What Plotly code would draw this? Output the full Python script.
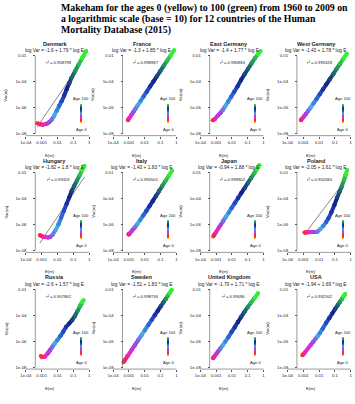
import plotly.graph_objects as go
from plotly.colors import sample_colorscale

W, H = 355, 404

# ---------------- data ----------------
ages = [0, 10, 20, 30, 35, 40, 45, 50, 55, 60, 65, 70, 75, 80, 85, 90, 95, 100]

countries = ["Denmark", "France", "East Germany", "West Germany",
             "Hungary", "Italy", "Japan", "Poland",
             "Russia", "Sweden", "United Kingdom", "USA"]

intercepts = [-1.6, -1.3, -1.4, -1.43, -1.82, -1.43, -0.94, -2.05, -2.6, -1.51, -1.79, -1.94]
slopes = [1.79, 1.85, 1.77, 1.78, 1.8, 1.83, 1.88, 1.61, 1.57, 1.83, 1.71, 1.69]
r_squared = ["0.958798", "0.998987", "0.980884", "0.995328", "0.93324", "0.992601",
             "0.999902", "0.952084", "0.907862", "0.998736", "0.99096", "0.992162"]

# log10 of E(m) and Var(m) for the ages above
log10_E_denmark = [-3.28, -3.12, -2.93, -2.68, -2.52, -2.37, -2.21, -2.05, -1.89, -1.74, -1.58, -1.42, -1.26, -1.11, -0.89, -0.67, -0.45, -0.19]
log10_Var_denmark = [-7.19, -7.27, -7.31, -7.23, -7.12, -6.92, -6.62, -6.23, -5.85, -5.50, -5.08, -4.58, -4.12, -3.69, -3.19, -2.69, -2.19, -1.62]

log10_E_france = [-3.06, -3.04, -2.97, -2.84, -2.73, -2.60, -2.45, -2.26, -2.07, -1.87, -1.66, -1.45, -1.23, -1.01, -0.79, -0.58, -0.36, -0.14]
log10_Var_france = [-6.96, -6.92, -6.79, -6.55, -6.35, -6.11, -5.83, -5.48, -5.13, -4.76, -4.37, -3.98, -3.58, -3.17, -2.76, -2.37, -1.97, -1.56]

log10_E_east_germany = [-3.21, -3.17, -3.09, -2.90, -2.74, -2.58, -2.43, -2.24, -2.05, -1.86, -1.64, -1.42, -1.20, -0.98, -0.76, -0.54, -0.35, -0.19]
log10_Var_east_germany = [-6.97, -6.95, -6.88, -6.62, -6.42, -6.18, -5.90, -5.53, -5.16, -4.78, -4.34, -3.86, -3.42, -3.00, -2.58, -2.17, -1.88, -1.62]

log10_E_west_germany = [-3.15, -3.13, -3.06, -2.93, -2.83, -2.69, -2.54, -2.36, -2.17, -1.96, -1.76, -1.55, -1.33, -1.11, -0.90, -0.69, -0.47, -0.25]
log10_Var_west_germany = [-6.96, -6.93, -6.83, -6.63, -6.47, -6.24, -5.98, -5.67, -5.33, -4.96, -4.59, -4.21, -3.81, -3.41, -3.01, -2.63, -2.23, -1.83]

log10_E_hungary = [-3.12, -3.06, -2.90, -2.58, -2.46, -2.30, -2.11, -1.94, -1.77, -1.60, -1.42, -1.26, -1.11, -0.95, -0.77, -0.60, -0.45, -0.29]
log10_Var_hungary = [-6.81, -6.87, -6.94, -7.00, -6.96, -6.78, -6.41, -6.00, -5.48, -4.94, -4.40, -3.92, -3.44, -3.05, -2.62, -2.21, -1.82, -1.50]

log10_E_italy = [-3.03, -3.01, -2.95, -2.82, -2.72, -2.59, -2.45, -2.28, -2.09, -1.90, -1.70, -1.50, -1.30, -1.09, -0.89, -0.68, -0.48, -0.27]
log10_Var_italy = [-6.77, -6.76, -6.69, -6.51, -6.37, -6.17, -5.94, -5.65, -5.31, -4.97, -4.59, -4.22, -3.83, -3.43, -3.04, -2.63, -2.25, -1.84]

log10_E_japan = [-3.18, -3.12, -3.01, -2.82, -2.69, -2.55, -2.39, -2.21, -2.02, -1.82, -1.61, -1.40, -1.19, -0.98, -0.78, -0.59, -0.42, -0.26]
log10_Var_japan = [-6.92, -6.81, -6.60, -6.24, -6.00, -5.73, -5.43, -5.09, -4.74, -4.36, -3.97, -3.57, -3.18, -2.78, -2.41, -2.05, -1.73, -1.43]

log10_E_poland = [-2.93, -2.84, -2.68, -2.46, -2.30, -2.11, -1.92, -1.74, -1.55, -1.42, -1.23, -1.04, -0.86, -0.70, -0.56, -0.43, -0.32, -0.23]
log10_Var_poland = [-6.63, -6.62, -6.60, -6.58, -6.58, -6.56, -6.36, -6.12, -5.82, -5.55, -5.08, -4.52, -3.94, -3.46, -3.05, -2.58, -2.16, -1.81]

log10_E_russia = [-3.06, -2.96, -2.81, -2.58, -2.46, -2.33, -2.18, -2.02, -1.83, -1.64, -1.45, -1.26, -1.08, -0.90, -0.73, -0.58, -0.46, -0.35]
log10_Var_russia = [-7.14, -7.23, -7.21, -6.90, -6.68, -6.45, -6.19, -5.93, -5.63, -5.28, -4.89, -4.64, -4.38, -4.06, -3.66, -3.31, -3.02, -2.85]

log10_E_sweden = [-3.34, -3.25, -3.09, -2.81, -2.62, -2.40, -2.18, -1.99, -1.77, -1.55, -1.36, -1.17, -0.98, -0.82, -0.67, -0.54, -0.42, -0.29]
log10_Var_sweden = [-7.62, -7.46, -7.17, -6.65, -6.31, -5.90, -5.50, -5.15, -4.75, -4.35, -4.00, -3.65, -3.30, -3.01, -2.74, -2.50, -2.28, -2.04]

log10_E_uk = [-3.19, -3.17, -3.11, -2.97, -2.87, -2.74, -2.59, -2.42, -2.23, -2.03, -1.82, -1.62, -1.41, -1.20, -0.99, -0.78, -0.56, -0.35]
log10_Var_uk = [-7.31, -7.27, -7.18, -6.95, -6.79, -6.58, -6.33, -6.04, -5.70, -5.32, -4.92, -4.52, -4.12, -3.73, -3.36, -3.01, -2.66, -2.31]

log10_E_usa = [-3.06, -3.01, -2.90, -2.52, -2.37, -2.21, -2.08, -1.96, -1.77, -1.55, -1.36, -1.17, -0.98, -0.82, -0.69, -0.56, -0.45, -0.35]
log10_Var_usa = [-7.09, -7.03, -6.87, -6.28, -6.04, -5.80, -5.59, -5.39, -5.02, -4.59, -4.23, -3.87, -3.51, -3.22, -2.98, -2.74, -2.54, -2.37]

x_ticks = [1e-4, 1e-3, 1e-2, 1e-1, 1]
x_tick_labels = ["1e-04", "0.001", "0.01", "0.1", "1"]
y_ticks = [1e-8, 1e-6, 1e-4, 1e-2]
y_tick_labels = ["1e-08", "1e-06", "1e-04", "0.01"]

title_lines = ["Makeham for the ages 0 (yellow) to 100 (green) from 1960 to 2009 on",
               "a logarithmic scale (base = 10) for 12 countries of the Human",
               "Mortality Database (2015)"]

all_log_E = [log10_E_denmark, log10_E_france, log10_E_east_germany, log10_E_west_germany,
             log10_E_hungary, log10_E_italy, log10_E_japan, log10_E_poland,
             log10_E_russia, log10_E_sweden, log10_E_uk, log10_E_usa]
all_log_Var = [log10_Var_denmark, log10_Var_france, log10_Var_east_germany, log10_Var_west_germany,
               log10_Var_hungary, log10_Var_italy, log10_Var_japan, log10_Var_poland,
               log10_Var_russia, log10_Var_sweden, log10_Var_uk, log10_Var_usa]

age_colorscale = [
    [0.00, "rgb(255,235,0)"],
    [0.05, "rgb(255,140,0)"],
    [0.11, "rgb(245,40,50)"],
    [0.22, "rgb(240,35,120)"],
    [0.32, "rgb(225,40,215)"],
    [0.41, "rgb(140,80,225)"],
    [0.50, "rgb(70,170,230)"],
    [0.62, "rgb(40,85,205)"],
    [0.74, "rgb(20,30,140)"],
    [0.86, "rgb(30,110,110)"],
    [1.00, "rgb(50,240,50)"],
]

# ---------------- layout geometry (pixels) ----------------
SANS = "Liberation Sans, Arial, Helvetica, sans-serif"
SERIF = "Liberation Serif, Times New Roman, serif"
X0, XSTEP, XDEC = 24.0, 87.7, 15.9
ROW_TOP = [56, 173, 290]
YDEC = 13.0
AXIS_COL = "#555555"
TXT_COL = "#222222"
BAND = 4.0


def fx(px):
    return px / W


def fy(py):
    return 1 - py / H


fig = go.Figure()
axes = {}
shapes = []
annotations = []


def ann(text, px, py, size, family=SANS, angle=0, xanchor="center", color=TXT_COL):
    annotations.append(dict(text=text, x=fx(px), y=fy(py), xref="paper", yref="paper",
                            showarrow=False, xanchor=xanchor, yanchor="middle",
                            textangle=angle, font=dict(size=size, family=family, color=color)))


for i, name in enumerate(countries):
    r, c = divmod(i, 4)
    colA = X0 + XSTEP * c          # pixel of the 1e-04 tick
    oc = colA + 2                  # reference for texts
    yt = ROW_TOP[r]                # pixel of the 0.01 tick
    xl, xh = colA - 4, colA + 66
    yb, ytop = yt + 80, yt - 10
    xr = [-4 + (xl - colA) / XDEC, -4 + (xh - colA) / XDEC]
    yr = [-2 - (yb - yt) / YDEC, -2 + (yt - ytop) / YDEC]
    sfx = "" if i == 0 else str(i + 1)
    xa, ya = "x" + sfx, "y" + sfx

    tickfont = dict(size=4.3, family=SANS, color=TXT_COL)
    axes["xaxis" + sfx] = dict(type="log", range=xr, domain=[fx(xl), fx(xh)], anchor=ya,
                               showgrid=False, zeroline=False, showline=False,
                               ticks="outside", ticklen=2, tickwidth=0.5, tickcolor=AXIS_COL,
                               tickvals=x_ticks, ticktext=x_tick_labels, tickfont=tickfont,
                               fixedrange=True)
    axes["yaxis" + sfx] = dict(type="log", range=yr, domain=[fy(yb), fy(ytop)], anchor="free",
                               position=fx(colA + 9.5),
                               showgrid=False, zeroline=False, showline=False,
                               ticks="outside", ticklen=2, tickwidth=0.5, tickcolor=AXIS_COL,
                               tickvals=y_ticks, ticktext=y_tick_labels, tickfont=tickfont,
                               ticklabelstandoff=6, fixedrange=True)

    # R-style axis lines from first to last tick
    shapes.append(dict(type="line", xref="paper", yref="paper",
                       x0=fx(colA), x1=fx(colA + 4 * XDEC), y0=fy(yb), y1=fy(yb),
                       line=dict(color=AXIS_COL, width=0.6)))
    shapes.append(dict(type="line", xref="paper", yref="paper",
                       x0=fx(colA + 9.5), x1=fx(colA + 9.5), y0=fy(yt + 78), y1=fy(yt),
                       line=dict(color=AXIS_COL, width=0.6)))

    le, lv = all_log_E[i], all_log_Var[i]
    E = [10 ** v for v in le]
    V = [10 ** v for v in lv]
    a, b = intercepts[i], slopes[i]

    # fitted line over the data range
    fig.add_trace(go.Scatter(x=[E[0], E[-1]], y=[10 ** (a + b * le[0]), 10 ** (a + b * le[-1])],
                             mode="lines", line=dict(color="#555555", width=0.7),
                             xaxis=xa, yaxis=ya, hoverinfo="skip", showlegend=False))

    # points coloured by age (with the age colour bar as legend)
    fig.add_trace(go.Scatter(
        x=E, y=V, mode="markers", xaxis=xa, yaxis=ya, hoverinfo="skip", showlegend=False,
        cliponaxis=False,
        marker=dict(color=ages, colorscale=age_colorscale, cmin=0, cmax=100, size=BAND,
                    line=dict(width=0), showscale=True,
                    colorbar=dict(x=fx(oc + 53.5), xanchor="center", y=fy(yt + 48), yanchor="top",
                                  len=19, lenmode="pixels", thickness=2.2, thicknessmode="pixels",
                                  outlinewidth=0, borderwidth=0, xpad=0, ypad=0,
                                  showticklabels=False, ticks=""))))

    # continuous band between consecutive ages (later ages drawn on top)
    for j in range(len(ages) - 1):
        col = sample_colorscale(age_colorscale, [ages[j + 1] / 100.0])[0]
        fig.add_trace(go.Scatter(x=E[j:j + 2], y=V[j:j + 2], mode="lines+markers",
                                 line=dict(color=col, width=BAND),
                                 marker=dict(color=col, size=BAND, line=dict(width=0)),
                                 xaxis=xa, yaxis=ya, hoverinfo="skip", showlegend=False,
                                 cliponaxis=False))

    # texts
    ann("<b>%s</b>" % name, oc + 27, yt - 12, 5.5)
    ann("log Var = %s + %s * log E" % (repr(a), repr(b)), oc + 27, yt - 5, 4.8)
    ann("r\u00b2 = %s" % r_squared[i], oc + 31, yt + 7, 4.2)
    ann("Age 100", oc + 53.5, yt + 43, 4.1)
    ann("Age 0", oc + 53.5, yt + 73.5, 4.1)
    ann("E(m)", oc + 22, yt + 99.5, 4.2)
    ann("Var(m)", oc - 22, yt + 39, 4.2, angle=-90)

for k, line in enumerate(title_lines):
    annotations.append(dict(text="<b>%s</b>" % line, x=fx(57.3), y=fy(8.5 + 11 * k),
                            xref="paper", yref="paper", showarrow=False,
                            xanchor="left", yanchor="middle",
                            font=dict(size=9.8, family=SERIF, color="#000000")))

fig.update_layout(width=W, height=H, autosize=False,
                  margin=dict(l=0, r=0, t=0, b=0, pad=0),
                  paper_bgcolor="white", plot_bgcolor="white",
                  showlegend=False, hovermode=False,
                  shapes=shapes, annotations=annotations, **axes)

fig.write_html("out.html")
